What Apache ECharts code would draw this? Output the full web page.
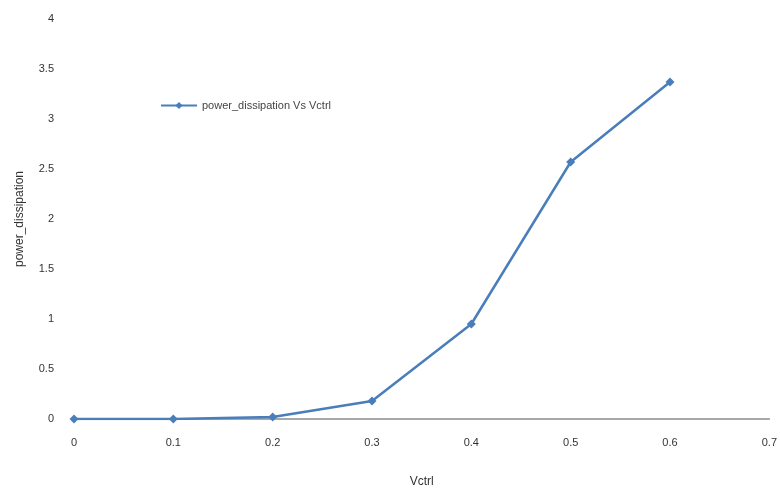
<!DOCTYPE html>
<html>
<head>
<meta charset="utf-8">
<script src="https://cdn.jsdelivr.net/npm/echarts@6/dist/echarts.min.js"></script>
<style>
html,body{margin:0;padding:0;background:#fff;}
#chart{width:780px;height:493px;}
</style>
</head>
<body>
<div id="chart"></div>
<script>
// Control voltage (Vctrl) sweep and measured power dissipation
const vctrl = [0, 0.1, 0.2, 0.3, 0.4, 0.5, 0.6];
const powerDissipation = [0, 0, 0.02, 0.18, 0.95, 2.57, 3.37];
const seriesName = 'power_dissipation Vs Vctrl';

const chart = echarts.init(document.getElementById('chart'));
const labelStyle = { color: '#333', fontSize: 11, fontFamily: 'Liberation Sans, Arial, sans-serif' };

chart.setOption({
  animation: false,
  backgroundColor: '#fff',
  grid: { left: 74, right: 6, top: 19, bottom: 73, containLabel: false },
  legend: {
    left: 155, top: 95,
    itemWidth: 36, itemHeight: 9, itemGap: 6,
    textStyle: { color: '#444', fontSize: 11, fontFamily: 'Liberation Sans, Arial, sans-serif' },
    data: [seriesName]
  },
  xAxis: {
    type: 'value', min: 0, max: 0.7, interval: 0.1,
    name: 'Vctrl', nameLocation: 'middle', nameGap: 57,
    nameTextStyle: { color: '#333', fontSize: 12, fontFamily: 'Liberation Sans, Arial, sans-serif' },
    axisLine: { show: true, lineStyle: { color: '#8c8c8c', width: 1.5 } },
    axisTick: { show: false },
    splitLine: { show: false },
    axisLabel: Object.assign({ margin: 18 }, labelStyle)
  },
  yAxis: {
    type: 'value', min: 0, max: 4, interval: 0.5,
    name: 'power_dissipation', nameLocation: 'middle', nameGap: 48, nameRotate: 90,
    nameTextStyle: { color: '#333', fontSize: 12, fontFamily: 'Liberation Sans, Arial, sans-serif' },
    axisLine: { show: false },
    axisTick: { show: false },
    splitLine: { show: false },
    axisLabel: Object.assign({ margin: 20 }, labelStyle)
  },
  series: [{
    name: seriesName,
    type: 'line',
    data: vctrl.map((v, i) => [v, powerDissipation[i]]),
    symbol: 'diamond', symbolSize: 9,
    itemStyle: { color: '#4a7ebb' },
    lineStyle: { color: '#4a7ebb', width: 2.5 }
  }]
});
</script>
</body>
</html>
